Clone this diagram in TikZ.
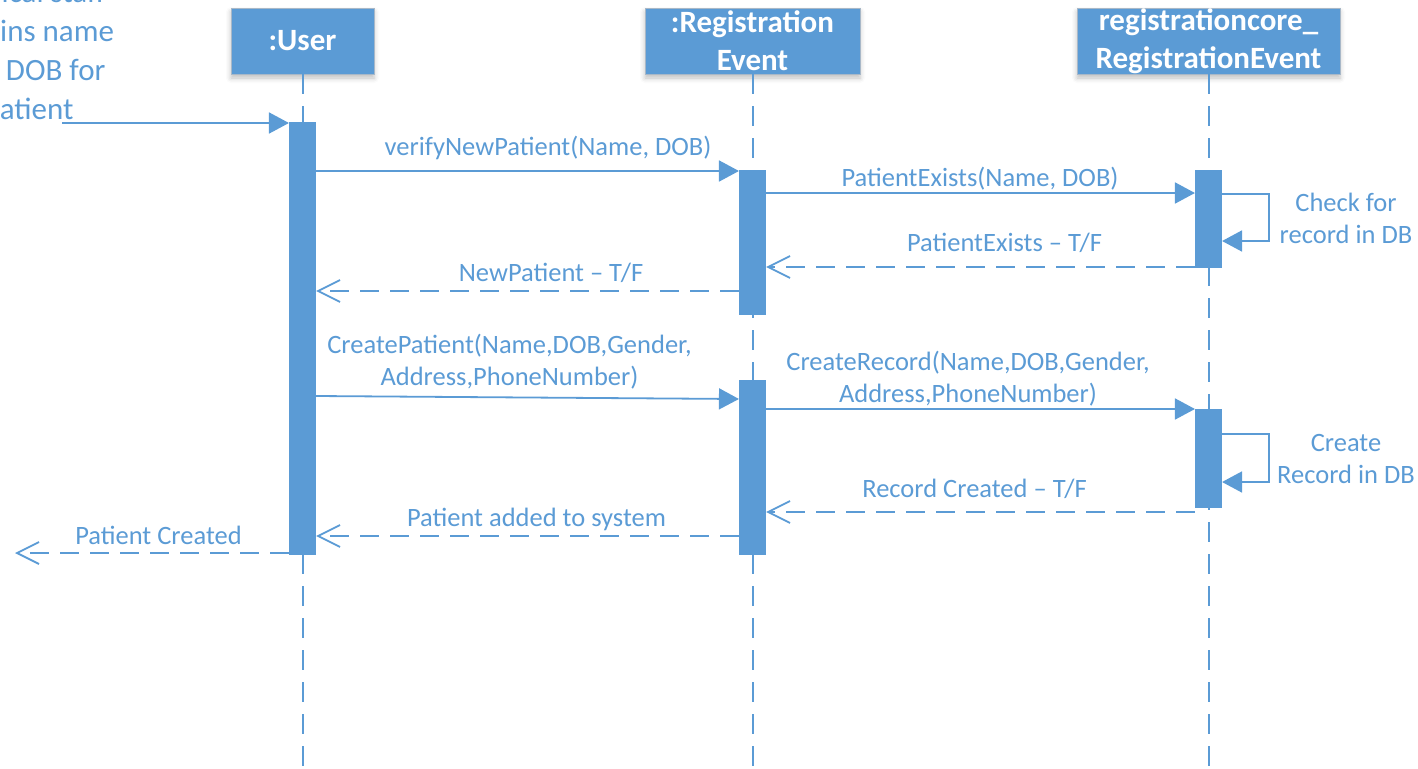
\documentclass[tikz,border=0pt]{standalone}
\usepackage{fontspec}
\setmainfont{Carlito}
\usetikzlibrary{arrows.meta,shadows.blur}
\definecolor{umlblue}{HTML}{5B9BD5}
\definecolor{boxedge}{HTML}{A8B8C8}

\tikzset{
  header/.style={rectangle, fill=umlblue, draw=boxedge, line width=0.8pt,
    text=white, font=\fontsize{31}{38}\selectfont\bfseries, align=center,
    inner sep=0pt, minimum height=66pt,
    blur shadow={shadow xshift=0pt, shadow yshift=-4pt,
      shadow blur radius=5pt, shadow opacity=25}},
  actbar/.style={rectangle, fill=umlblue, draw=umlblue, line width=0.6pt,
    inner sep=0pt, minimum width=26.5pt},
  life/.style={umlblue, line width=2pt, dash pattern=on 20pt off 12pt},
  call/.style={umlblue, line width=1.8pt, -{Triangle[length=20pt,width=21pt]}},
  reply/.style={umlblue, line width=1.8pt, dash pattern=on 19pt off 11pt,
    -{Straight Barb[length=22pt,width=22pt,line width=1.8pt]}},
  lbl/.style={text=umlblue, font=\fontsize{26.5}{32}\selectfont,
    inner sep=0pt, anchor=base, align=center},
  note/.style={text=umlblue, font=\fontsize{31}{39}\selectfont,
    inner sep=0pt, anchor=base, align=center},
}

\begin{document}
\begin{tikzpicture}[x=1pt,y=-1pt]
\useasboundingbox (0,0) rectangle (1418,768);
\begin{scope}
\clip (0,0) rectangle (1418,768);

% object heads
\node[header, minimum width=143pt] (u) at (302.5,41) {:User};
\node[header, minimum width=215pt] (r) at (752.5,41) {:Registration\\Event};
\node[header, minimum width=263pt] (c) at (1208.5,41) {registrationcore\_\\RegistrationEvent};

% lifelines
\coordinate (uend) at (u.south |- 0,772);
\coordinate (rend) at (r.south |- 0,772);
\coordinate (cend) at (c.south |- 0,772);
\draw[life] (u.south) -- (uend);
\draw[life] (r.south) -- (rend);
\draw[life] (c.south) -- (cend);

% activation bars
\node[actbar, minimum height=432pt] (ua)  at (302.5,338) {};
\node[actbar, minimum height=144pt] (ra1) at (752.5,242) {};
\node[actbar, minimum height=174pt] (ra2) at (752.5,467) {};
\node[actbar, minimum height=97pt]  (ca1) at (1208.5,218.5) {};
\node[actbar, minimum height=98pt]  (ca2) at (1208.5,458) {};

% trigger from the actor (multi-line labels are placed by their last baseline)
\node[note] (trigger) at (28.5,119) {Clerical staff\\obtains name\\and DOB for\\patient};
\coordinate (start) at (62,123);
\draw[call] (start) -- (ua.west |- start);

% patient lookup
\draw[call] (ua.east |- 0,171) -- (ra1.west |- 0,171);
\node[lbl] (l1) at (548,155) {verifyNewPatient(Name, DOB)};
\draw[call] (ra1.east |- 0,193) -- (ca1.west |- 0,193);
\node[lbl] (l2) at (980,186) {PatientExists(Name, DOB)};
\draw[call] (ca1.east |- 0,194) -- ++(47,0) |- (ca1.east |- 0,241);
\node[lbl] (l3) at (1346,243) {Check for\\record in DB};
\draw[reply] (ca1.west |- 0,267) -- (ra1.east |- 0,267);
\node[lbl] (l4) at (1004.5,251) {PatientExists – T/F};
\draw[reply] (ra1.west |- 0,291) -- (ua.east |- 0,291);
\node[lbl] (l5) at (551,281) {NewPatient – T/F};

% record creation
\draw[call] (ua.east |- 0,396) -- (ra2.west |- 0,399);
\node[lbl] (l6) at (509.5,385) {CreatePatient(Name,DOB,Gender,\\Address,PhoneNumber)};
\draw[call] (ra2.east |- 0,409) -- (ca2.west |- 0,409);
\node[lbl] (l7) at (968,402) {CreateRecord(Name,DOB,Gender,\\Address,PhoneNumber)};
\draw[call] (ca2.east |- 0,434) -- ++(47,0) |- (ca2.east |- 0,482);
\node[lbl] (l8) at (1346,483) {Create\\Record in DB};
\draw[reply] (ca2.west |- 0,512) -- (ra2.east |- 0,512);
\node[lbl] (l9) at (974.5,497) {Record Created – T/F};
\draw[reply] (ra2.west |- 0,536) -- (ua.east |- 0,536);
\node[lbl] (l10) at (536.5,526) {Patient added to system};
\coordinate (done) at (15,553);
\draw[reply] (ua.west |- done) -- (done);
\node[lbl] (l11) at (158.5,544) {Patient Created};
\end{scope}
\end{tikzpicture}
\end{document}
